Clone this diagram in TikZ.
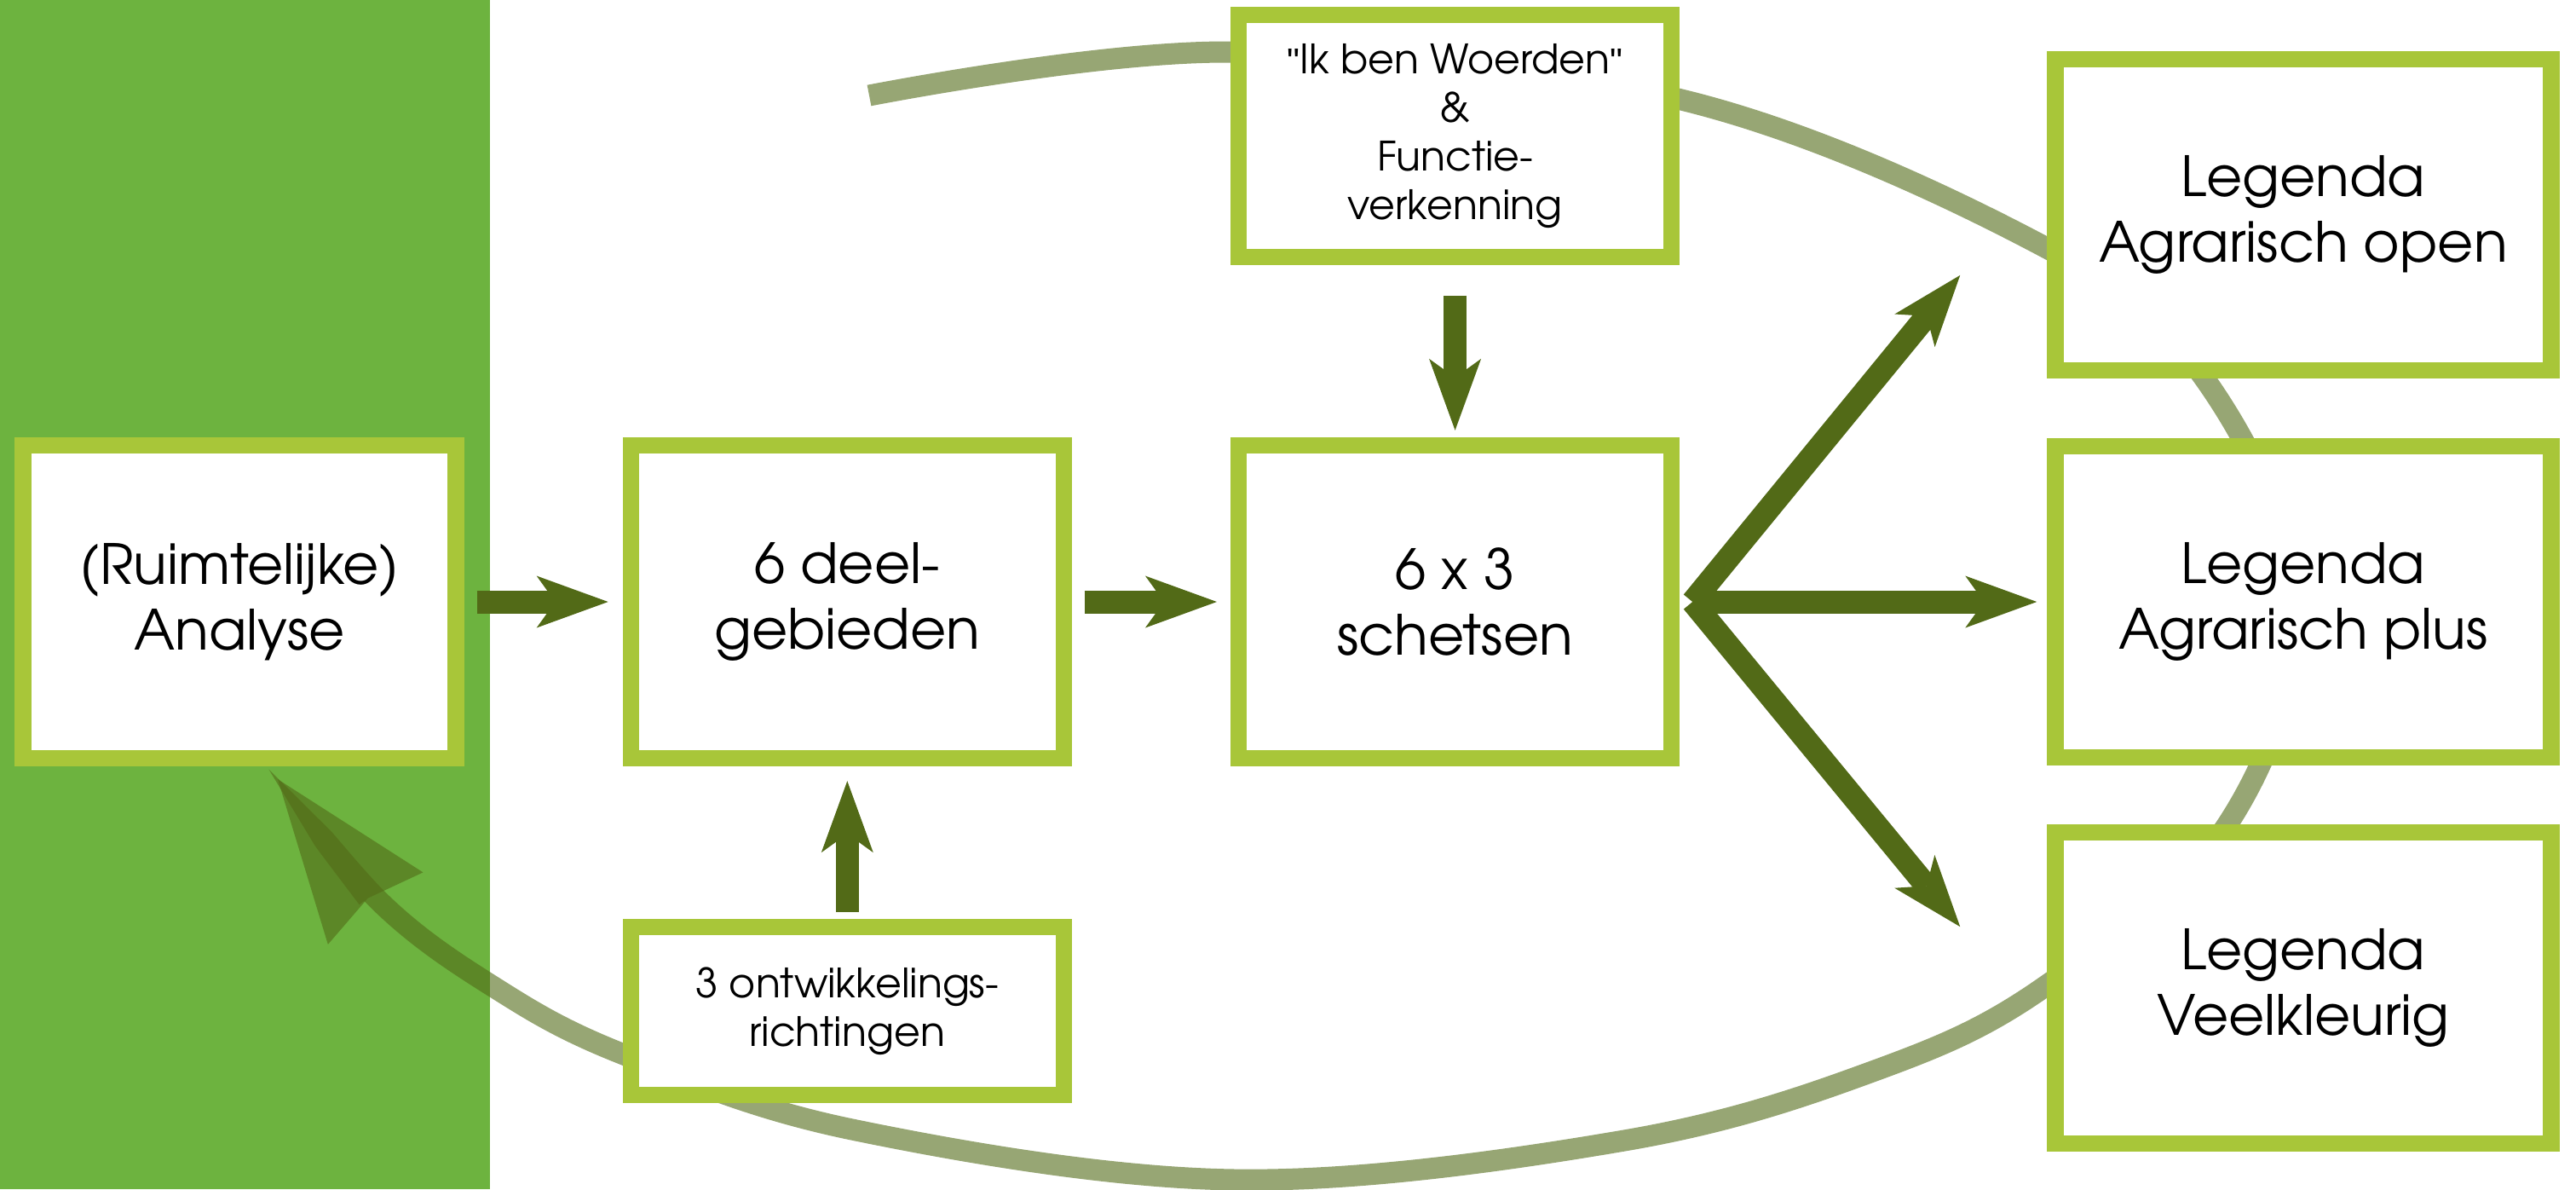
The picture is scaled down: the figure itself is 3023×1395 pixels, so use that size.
\documentclass[tikz,border=0pt]{standalone}
\usepackage{fontspec}
\setmainfont{texgyreadventor}[Extension=.otf, UprightFont=*-regular, BoldFont=*-bold]
\newfontfamily\quotefont{Liberation Sans}
\usepackage{tikz}
\usetikzlibrary{calc}
\usetikzlibrary{arrows.meta, positioning, backgrounds}
\tikzset{>=stealth}

\definecolor{bandgreen}{HTML}{6DB33F}
\definecolor{boxlime}{HTML}{A8C639}
\definecolor{darkolive}{HTML}{526A17}

\newcommand{\bigtext}{\fontsize{18.5}{21.9}\selectfont}
\newcommand{\smalltext}{\fontsize{13.5}{16.2}\selectfont}
\newcommand{\dq}{{\quotefont\fontsize{12}{16.2}\selectfont"}}

\tikzset{
  box/.style={draw=boxlime, fill=white, line width=1.93mm, inner sep=0pt, align=center},
  stepbox/.style={box, minimum width=50.8mm, minimum height=36.7mm, font=\bigtext},
  legbox/.style={box, minimum width=58.2mm, minimum height=36.5mm, font=\bigtext},
  flow/.style={draw=darkolive, line width=2.7mm, -{Stealth[length=8.4mm, width=6.1mm, inset=2.2mm, line width=0pt]}},
  loopback/.style={draw=darkolive, opacity=0.6, line width=2.5mm, -{Stealth[length=19mm, width=14mm, inset=1.5mm, line width=0pt]}}
}

\begin{document}
\begin{tikzpicture}[x=0.1mm, y=-0.1mm]
  \useasboundingbox (0,0) rectangle (3023,1395);

  % main row
  \node[stepbox] (analyse) at (281,706) {(Ruimtelijke)\\Analyse};
  \node[stepbox, right=18.6mm of analyse] (deel) {6 deel-\\gebieden};
  \node[stepbox, right=18.6mm of deel] (schetsen) {6 x 3\\schetsen};
  \node[box, font=\smalltext, minimum width=50.8mm, minimum height=28.4mm, above=20.2mm of schetsen] (woerden) {\dq Ik ben Woerden\dq\\\&\\Functie-\\verkenning};
  \node[box, font=\smalltext, minimum width=50.8mm, minimum height=19.7mm, below=17.9mm of deel] (richtingen) {3 ontwikkelings-\\richtingen};

  % legenda's
  \node[legbox, right=43.1mm of schetsen] (legplus) {Legenda\\Agrarisch plus};
  \node[legbox, above=7mm of legplus] (legopen) {Legenda\\Agrarisch open};
  \node[legbox, below=6.9mm of legplus] (legveel) {Legenda\\Veelkleurig};

  \draw[flow, shorten <=1.5mm, shorten >=1.7mm] (analyse) -- (deel);
  \draw[flow, shorten <=1.5mm, shorten >=1.6mm] (deel) -- (schetsen);
  \draw[flow, shorten <=3.6mm, shorten >=0.8mm] (woerden) -- (schetsen);
  \draw[flow, shorten <=0.8mm, shorten >=1.7mm] (richtingen) -- (deel);

  \coordinate (fan) at ([xshift=1.5mm]schetsen.east);
  \draw[flow] (fan) -- ($(legopen.south west)+(-102,-121)$);
  \draw[flow, shorten >=1.2mm] (fan) -- (legplus);
  \draw[flow] (fan) -- ($(legveel.north west)+(-102,120)$);

  % terugkoppeling
  \coordinate (loopstart) at (1020,112);
  \coordinate (loopend) at ([xshift=4.5mm, yshift=-1.5mm]analyse.south);
  \begin{scope}[on background layer]
    \fill[bandgreen] (0,0) rectangle (575,1395);
    \draw[loopback] plot[smooth, tension=0.6] coordinates {(loopstart) (1442,61) (1969,116) (2400,290) (2587,444) (2695,705) (2614,967) (2400,1157) (2200,1256) (1906,1338) (1450,1384) (1000,1325) (727,1235) (575,1155) (446,1058) (loopend)};
  \end{scope}
\end{tikzpicture}
\end{document}
